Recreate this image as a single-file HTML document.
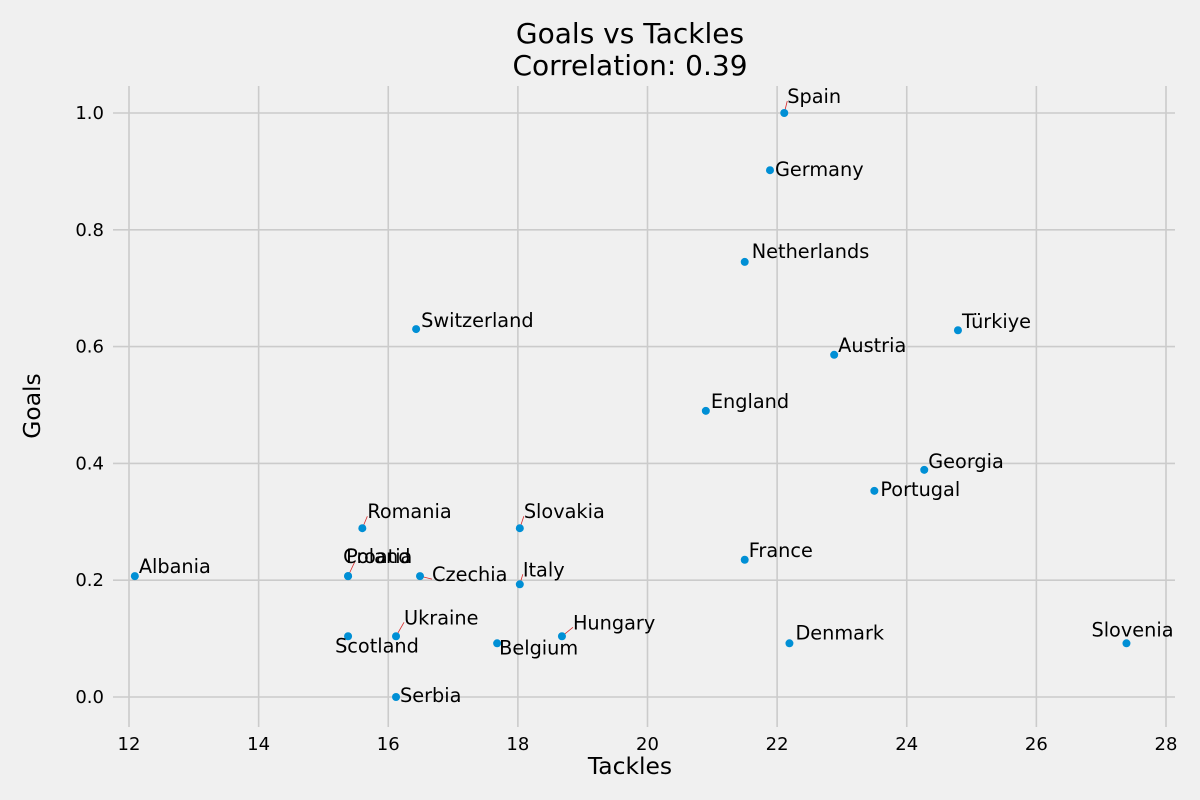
<!DOCTYPE html>
<html><head><meta charset="utf-8"><style>
html,body{margin:0;padding:0;background:#f0f0f0;}
svg{display:block;font-family:"DejaVu Sans","Liberation Sans",sans-serif;}
</style></head><body>
<svg id="chart" width="1200" height="800">
<rect width="1200" height="800" fill="#f0f0f0"/>
<text x="630" y="43" text-anchor="middle" font-size="28" fill="#000">Goals vs Tackles</text>
<text x="630" y="75" text-anchor="middle" font-size="28" fill="#000">Correlation: 0.39</text>
<text x="630" y="774" text-anchor="middle" font-size="23.4" fill="#000">Tackles</text>
<text x="40" y="406" text-anchor="middle" font-size="23.4" fill="#000" transform="rotate(-90 40 406)">Goals</text>
<g id="grid"></g><g id="ticks"></g><g id="lines"></g><g id="points"></g><g id="labels"></g>
</svg>
<script>
const countries=["Spain","Germany","Netherlands","Switzerland","Türkiye","Austria","England","Georgia","Portugal","Romania","Slovakia","France","Albania","Croatia","Poland","Czechia","Italy","Ukraine","Scotland","Hungary","Belgium","Denmark","Slovenia","Serbia"];
const tackles=[22.11,21.89,21.5,16.43,24.79,22.88,20.9,24.27,23.5,15.6,18.03,21.5,12.09,15.38,15.38,16.49,18.03,16.12,15.38,18.68,17.68,22.19,27.39,16.12];
const goals=[1.0,0.902,0.745,0.630,0.628,0.586,0.49,0.389,0.353,0.289,0.289,0.235,0.207,0.207,0.207,0.207,0.193,0.104,0.104,0.104,0.092,0.092,0.092,0.0];
const xTicks=[12,14,16,18,20,22,24,26,28];
const yTicks=[0.0,0.2,0.4,0.6,0.8,1.0];
const labelDx=[3,5,7,5,4,4,5,4,6,5,4,4,4,-5,-2,12,3,8,-13,11,2,6,-35,4];
const labelDy=[-16,0,-10,-8,-8,-9,-9,-8,-1,-16,-16,-9,-9,-19,-19,-1,-14,-18,10,-13,5,-10,-13,-1];
const connectors=[true,false,false,false,false,false,false,false,false,true,true,false,false,true,false,true,true,true,false,true,false,false,false,false];
const xs=v=>129+(v-12)*(1037/16);
const ys=v=>697-v*584;
const NS="http://www.w3.org/2000/svg";
function mk(t,a,p){const e=document.createElementNS(NS,t);for(const k in a)e.setAttribute(k,a[k]);p.appendChild(e);return e;}
const grid=document.getElementById('grid'),ticks=document.getElementById('ticks');
xTicks.forEach(t=>{
 const l=mk('line',{x1:xs(t),x2:xs(t),y1:86,y2:727,stroke:'#cbcbcb','stroke-width':1.6},grid);
 
 
 const tx=mk('text',{x:xs(t),y:750,'text-anchor':'middle','font-size':18,fill:'#000'},ticks);
 tx.textContent=t;
 
 
});
yTicks.forEach(t=>{
 const l=mk('line',{x1:113,x2:1175,y1:ys(t),y2:ys(t),stroke:'#cbcbcb','stroke-width':1.6},grid);
 
 
 const tx=mk('text',{x:104,y:ys(t)+6,'text-anchor':'end','font-size':18,fill:'#000'},ticks);
 tx.textContent=t.toFixed(1);
 
 
});
const pts=document.getElementById('points'),lbs=document.getElementById('labels'),lns=document.getElementById('lines');
countries.forEach((c,i)=>{
 const x=xs(tackles[i]),y=ys(goals[i]);
 const tx=x+labelDx[i],ty=y+labelDy[i];
 if(connectors[i]){
  const ln=mk('line',{x1:x,y1:y,x2:tx+(labelDx[i]<0?12:0),y2:ty+4,stroke:'#d62728','stroke-width':0.8},lns);
  
  
 }
 const p=mk('circle',{cx:x,cy:y,r:4,fill:'#008fd5'},pts);
 
 
 const t=mk('text',{x:tx,y:ty+6,'font-size':19.3,fill:'#000'},lbs);
 t.textContent=c;
 
 
});
</script>
</body></html>
